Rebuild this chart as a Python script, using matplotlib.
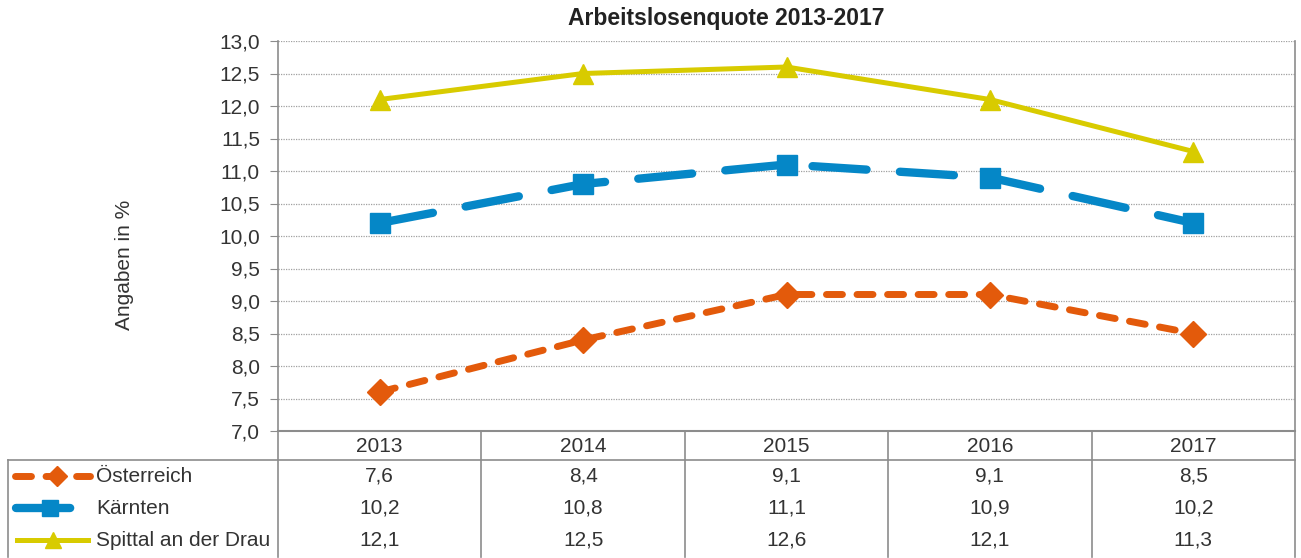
import matplotlib
matplotlib.use("Agg")
import matplotlib.pyplot as plt
from matplotlib.lines import Line2D
from matplotlib.transforms import blended_transform_factory

plt.rcParams['font.family'] = ['Liberation Sans', 'DejaVu Sans']

jahre = ["2013", "2014", "2015", "2016", "2017"]
oesterreich = [7.6, 8.4, 9.1, 9.1, 8.5]
kaernten = [10.2, 10.8, 11.1, 10.9, 10.2]
spittal = [12.1, 12.5, 12.6, 12.1, 11.3]
namen = ["Österreich", "Kärnten", "Spittal an der Drau"]

W, H = 1301, 558
fig = plt.figure(figsize=(W / 100, H / 100), dpi=100)
ax = fig.add_axes([278 / W, 1 - 431 / H, (1295 - 278) / W, (431 - 41) / H])

orange = '#E35A0B'
blau = '#0587C7'
gelb = '#D8CB00'
grau = '#8C8C8C'
txt = '#333333'
fs = 15

stile = [
    dict(color=orange, lw=5.0, dashes=(2.3, 2.1), dash_capstyle='round', marker='D', ms=13),
    dict(color=blau, lw=6.0, dashes=(6.5, 4.0), dash_capstyle='round', marker='s', ms=14),
    dict(color=gelb, lw=3.6, marker='^', ms=15),
]
reihen = [oesterreich, kaernten, spittal]

x = range(len(jahre))
for werte, st in zip(reihen, stile):
    ax.plot(x, werte, **st, zorder=3)

ax.set_xlim(-0.5, len(jahre) - 0.5)
ax.set_ylim(7.0, 13.0)
ax.set_yticks([7.0 + 0.5 * i for i in range(13)])
ax.set_yticklabels([f"{7.0 + 0.5 * i:.1f}".replace('.', ',') for i in range(13)])
ax.set_xticks([])
ax.grid(axis='y', color='#A0A0A0', linestyle=(0, (1, 1)), lw=0.9)
ax.tick_params(axis='y', labelsize=fs, colors=txt, length=6, color=grau, pad=7)
for s in ['left', 'right', 'bottom', 'top']:
    ax.spines[s].set_color(grau)
ax.spines['top'].set_visible(False)
ax.spines['left'].set_linewidth(1.2)
ax.spines['right'].set_linewidth(1.2)
ax.spines['bottom'].set_linewidth(1.5)
fig.text(726 / W, 1 - 19 / H, "Arbeitslosenquote 2013-2017", fontsize=16.5, fontweight='bold',
         color='#222222', ha='center', va='center')
fig.text(125 / W, 1 - 265 / H, "Angaben in %", rotation=90, fontsize=fs, color=txt,
         ha='center', va='center')

# Datentabelle unter dem Diagramm
tr = blended_transform_factory(ax.transData, fig.transFigure)
fy = lambda py: 1 - py / H
fx = lambda px: px / W

def linie(x0, y0, x1, y1, lw=1.2):
    fig.add_artist(Line2D([fx(x0), fx(x1)], [fy(y0), fy(y1)], color=grau, lw=lw,
                          transform=fig.transFigure))

zeilen_y = [476, 508, 540]
for i, j in enumerate(jahre):
    ax.text(i, fy(446), j, transform=tr, ha='center', va='center', fontsize=fs, color=txt)
    for werte, yy in zip(reihen, zeilen_y):
        ax.text(i, fy(yy), f"{werte[i]:.1f}".replace('.', ','), transform=tr,
                ha='center', va='center', fontsize=fs, color=txt)

spalten = [278 + (1295 - 278) * k / len(jahre) for k in range(len(jahre) + 1)]
for sx in spalten:
    linie(sx, 431, sx, 557)
linie(8, 460, 1295, 460)
linie(8, 460, 8, 557)

schluessel = [(15, 57, 90), (16, 50, 78), (17, 53, 88)]
for name, st, yy, (a, m, b) in zip(namen, stile, zeilen_y, schluessel):
    kst = dict(st)
    kst['ms'] = st['ms'] * 0.8
    fig.add_artist(Line2D([fx(a), fx(m), fx(b)], [fy(yy)] * 3, markevery=[1],
                          transform=fig.transFigure, **kst))
    fig.text(fx(96), fy(yy), name, ha='left', va='center', fontsize=fs, color=txt)

fig.savefig("out.png", dpi=100)
